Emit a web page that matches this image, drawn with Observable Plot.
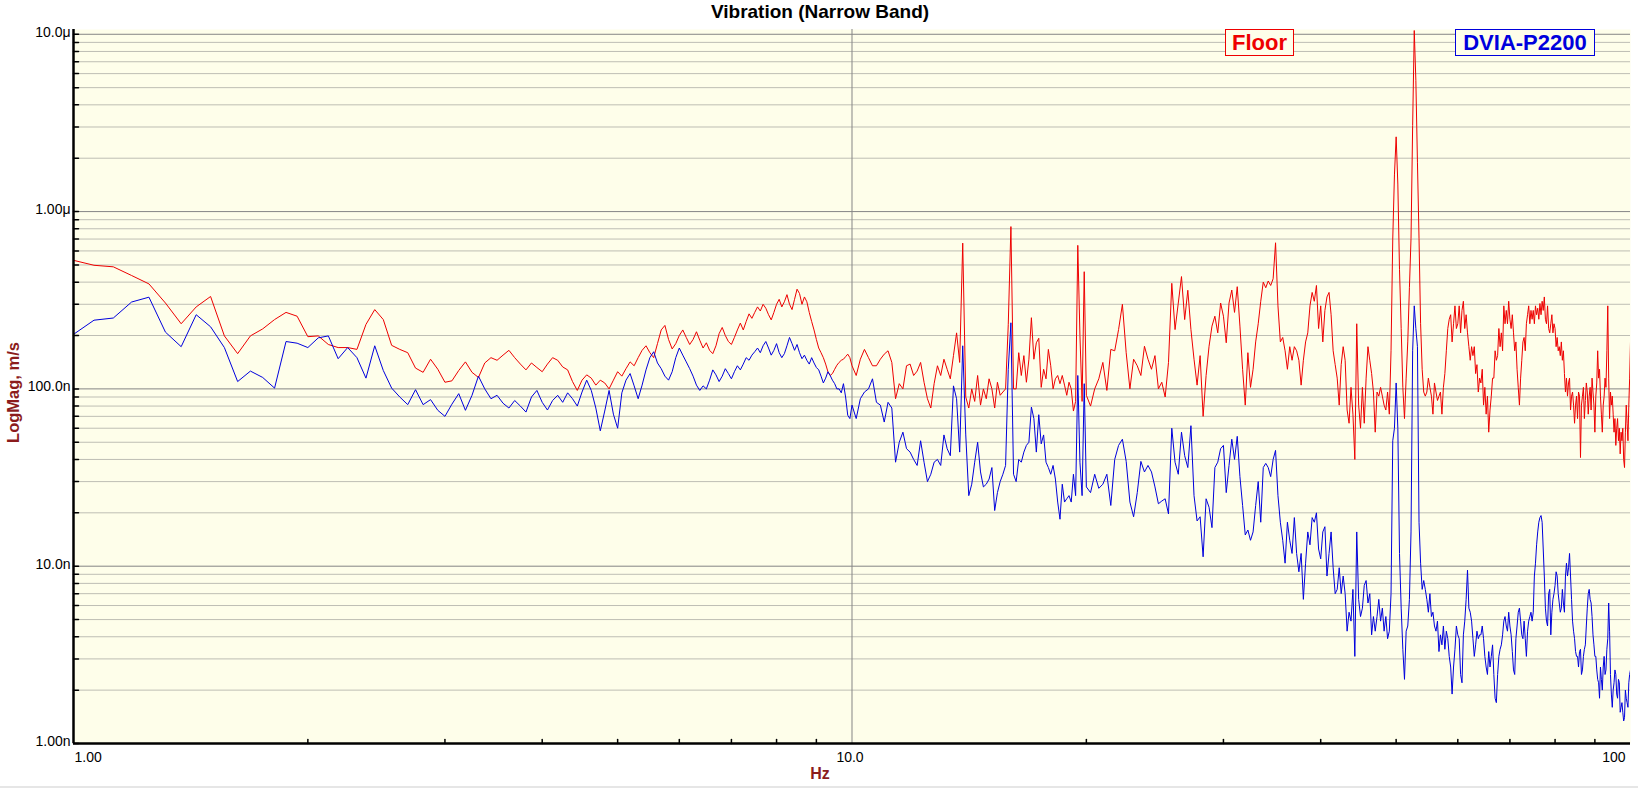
<!DOCTYPE html>
<html><head><meta charset="utf-8">
<script src="https://cdn.jsdelivr.net/npm/d3@7"></script>
<script src="https://cdn.jsdelivr.net/npm/@observablehq/plot@0.6"></script>
<style>
html,body{margin:0;padding:0;background:#fff;}
#wrap{position:relative;width:1638px;height:788px;overflow:hidden;font-family:"Liberation Sans",Arial,sans-serif;}
.leg{position:absolute;top:29px;height:25px;line-height:25px;font-weight:bold;font-size:22px;text-align:center;background:#fefeea;}
#legFloor{left:1225px;width:67px;border:1px solid #ee0000;color:#ee0000;}
#legDvia{left:1455px;width:138px;border:1px solid #0000dd;color:#0000dd;}
#edge{position:absolute;left:0;top:786px;width:1638px;height:2px;background:#e6e6e6;}
</style></head><body>
<div id="wrap"><div id="chart"></div>
<div class="leg" id="legFloor">Floor</div><div class="leg" id="legDvia">DVIA-P2200</div><div id="edge"></div></div>
<script>
// ---- chart text ----
const chartTitle = "Vibration (Narrow Band)";
const xLabel = "Hz";
const yLabel = "LogMag, m/s";
const seriesNames = ["Floor", "DVIA-P2200"];
// ---- axes ----
const yTickValues = [1e-9, 1e-8, 1e-7, 1e-6, 1e-5];
const yTickLabels = ["1.00n", "10.0n", "100.0n", "1.00\u03bc", "10.0\u03bc"];
const yMinorMult = [2, 3, 4, 5, 6, 7, 8, 9];
const xTickValues = [1, 10, 100];
const xTickLabels = ["1.00", "10.0", "100"];
const xMinorTicks = [2, 3, 4, 5, 6, 7, 8, 9, 20, 30, 40, 50, 60, 70, 80, 90];
const xGrid = [10];
// ---- frequency bins (Hz): segment start and bin width ----
const segStart = [1, 10.125, 20.25, 32.75];
const segStep = [0.0625, 0.125, 0.25, 0.25];
// ---- Floor magnitudes, nm/s ----
const floorA = [531,498,488,436,391,305,233,290,332,199,
158,199,218,246,270,257,197,199,178,171,
171,167,231,280,246,176,167,160,131,124,
147,129,109,111,127,142,124,116,
140,150,145,155,165,150,138,128,140,132,
125,138,150,145,133,128,110,98,112,120,
115,105,112,108,100,112,125,118,130,142,
135,150,165,175,160,150,180,215,228,190,
168,180,200,215,195,178,190,210,188,170,
182,165,158,175,205,222,200,185,178,195,
215,235,215,240,265,250,270,290,275,300,
285,262,245,270,300,320,290,310,340,300,
280,320,365,345,300,330,310,270,240,215,
190,170,160,150,138,125,119,122,129,136,
141,145,147,152,157,150,135];
const floorB = [119,147,167,150,135,135,147,157,164,141,
88,107,100,135,138,119,126,141,109,88,
78,107,135,119,147,129,114,154,207,141,
664,90,78,100,85,119,81,100,88,114,
100,78,109,92,96,100,230,823,100,100,
160,119,154,109,147,252,147,182,193,102,
129,114,167,135,100,114,119,107,119,105,
92,109,100,75,85,645,200,85,458,92];
const floorC1 = [80,100,114,141,98,167,164,216,300,160,
100,147,135,119,174,147,129,154,100,109,
90,141,394,216,305,430,246,360,216,147,
105,154,70,119,174,226,257,207,305,257,
182,305,361,270,377,226,129,81,160,102];
const floorC2 = [129,184,233,312,400,372,406,383,418,667,
294,184,195,164,129,173,145,173,164,145,
105,145,184,207,294,350,312,383,219,294,
184,277,330,350,262,164,137,115,81,137,
173,145,76,64,102,72,40,233,81,60,
102,64,115,173,145,122,96,57,96,91,
102,91,81,76,96,72,164,700,1610,2640,
1430,470,219,102,68,115,184,372,707,3060,
10500,5500,1900,707,233,129,96,91,96,115,
102,91,72,108,96,86,91,96,72,102,
122,164,219,247,262,184,233,294,219,233,
294,207,277,312,219,262,207,173,145,173,
154,173,122,137,96,115,108,129,81,102,
72,91,57,76,91,115,115,164,145,154,
219,173,207,164,294,233,277,233,312,247,
219,262,207,164,184,129,102,81,115,145,
184,195,164,233,262,294,233,277,247,277,
233,294,262,285,247,303,262,312,277,330,
247,233,294,219,207,233,262,207,233,219,
173,195,164,173,154,184,145,164,122,96,
115,91,108,115,76,91,96,81,64,81,
91,68,96,91,41,81,91,102,68,86,
108,96,72,91,102,76,115,96,81,57,
91,108,164,115,129,91,72,57,81,91,
115,102,164,294,115,68,96,81,91,72,
57,68,48,60,68,51,60,43,57,51,
60,40,36,57,81,64,51,81,115,184];
// ---- DVIA-P2200 magnitudes, nm/s ----
const dviaA = [203,244,251,309,329,209,173,262,224,171,
110,126,116,101,185,181,171,194,199,148,
171,150,115,175,127,101,90,81.5,99,81.5,
87,75.7,70,82,94,75.7,92,118,
100,88,92,83,78,86,80,74,90,98,
84,76,86,92,84,95,88,80,96,112,
98,78,58,75,98,72,60,95,112,122,
104,88,105,128,150,162,140,130,118,112,
125,150,170,155,142,130,118,105,98,104,
100,112,128,120,110,118,130,122,114,125,
135,128,138,150,145,155,162,170,160,175,
185,170,155,165,180,160,150,158,175,195,
180,165,178,160,148,155,145,138,150,140,
132,128,118,108,115,125,119,112,107,100,
100,95,107,90,71,68,81];
const dviaB = [68,88,96,100,114,84,81,65,84,78,
38.6,50,57,46,44,40,37,51,38.6,30,
33,38.6,40,37,55,46,42,104,88,44,
175,55,25,29,38.6,50,34,28,29,31,
36,20.6,26,30,33,37,129,236,33,30,
40,38.6,44,48,50,79,68,44,71.5,49,
55,38.6,36,33,37,31,23,18.4,29,23,
24,25,23,33,25,119,38.6,25,107,28];
const dviaC1 = [26,33,27.5,29,33,22,40,48,52,39,
23,19,26,39,34,37,34,28,22.5,23.3,
24,19.7,60,38.6,33,57,42,36,62,25,
18,19,11.3,24,21.5,16.5,36,38.6,46,48,
26,37,52,40,54,32,22,15,16,14];
const dviaC2 = [15.6,22,30,17.7,36,38,36,32,40,45,
25,17.7,14,10.4,17.7,14,11.8,18.8,11.8,9.3,
11.8,6.5,10.4,15.6,13.2,18.8,17.7,20,12.5,11,
15.6,16.7,8.8,11.8,15.6,9.8,7.0,7.4,9.8,7.0,
8.8,7.0,4.3,5.5,4.9,7.4,3.1,15.6,6.5,5.2,
5.8,7.8,8.3,6.2,7.0,4.1,5.2,4.3,5.2,6.5,
4.9,5.8,4.3,5.2,3.9,4.3,7.0,51,60,108,
60,11.8,5.8,3.4,2.3,4.3,4.6,6.5,15.6,164,
294,219,173,17.7,10.4,7.4,8.3,7.4,6.5,5.5,
7.0,5.2,5.5,4.6,4.3,4.9,3.3,4.1,3.6,4.6,
3.4,4.3,3.9,3.1,2.7,1.9,2.7,3.4,4.6,4.1,
3.9,2.45,2.2,4.1,4.9,6.5,9.5,5.8,5.5,4.9,
3.9,3.1,3.6,4.3,3.9,4.1,4.1,4.6,3.9,3.1,
2.7,2.45,3.3,2.7,3.1,3.6,2.45,1.8,1.7,2.45,
3.1,3.4,3.6,4.1,4.9,5.2,4.6,4.3,5.5,4.6,
4.1,3.3,2.6,2.45,3.9,4.6,5.5,5.8,4.9,4.1,
3.9,4.9,3.9,3.1,4.3,4.9,5.2,5.5,4.9,5.5,
8.8,10.4,13.2,15.6,17.7,18.8,19.3,17.7,12.5,8.8,
5.8,4.9,4.6,7.0,7.4,4.1,5.5,6.5,7.0,7.8,
9.3,8.8,7.0,6.2,5.5,5.8,7.4,6.2,5.5,8.8,
10.4,8.8,9.8,11.8,8.8,6.5,4.9,4.3,3.9,3.3,
3.1,3.1,2.7,3.3,3.4,2.45,2.6,3.1,3.4,3.6,
4.6,5.8,7.0,7.4,6.5,6.2,5.2,4.1,3.6,3.1,
3.1,2.6,2.3,2.2,1.8,2.7,2.3,2.0,2.7,3.1,
2.45,2.6,3.4,3.9,6.2,4.3,2.45,1.9,1.6,2.0,
2.2,2.6,2.45,1.9,1.8,2.3,2.2,1.5,1.6,1.7,
1.5,1.34,1.4,2.0,1.8,1.7,1.6,2.2,2.45,2.6];

function build(segs) {
  const out = [];
  segs.forEach((vals, s) => vals.forEach((v, i) => out.push({hz: segStart[s] + i * segStep[s], mag: v * 1e-9})));
  return out;
}
const floorData = build([floorA, floorB, floorC1, floorC2]);
const dviaData = build([dviaA, dviaB, dviaC1, dviaC2]);

const yMinor = [];
yTickValues.slice(0, -1).forEach(d => yMinorMult.forEach(m => yMinor.push(d * m)));
const yAllTicks = yTickValues.concat(yMinor);

const tickShape = {draw(ctx, l) { ctx.moveTo(0, 0); ctx.lineTo(0, -l); }};
const darkRed = "#8b1c1c";
const font = '"Liberation Sans", Arial, sans-serif';

const chart = Plot.plot({
  width: 1638, height: 788,
  marginLeft: 73, marginRight: 8, marginTop: 29, marginBottom: 45,
  style: {fontFamily: font, fontSize: "14px", background: "#ffffff", color: "#000", overflow: "visible"},
  x: {type: "log", domain: [1, 100], axis: null},
  y: {type: "log", domain: [1e-9, 1.064e-5], axis: null},
  marks: [
    Plot.frame({fill: "#fefeea", stroke: null}),
    Plot.ruleY(yMinor, {stroke: "#bebeb4", strokeWidth: 1}),
    Plot.ruleY(yTickValues, {stroke: "#858585", strokeWidth: 1}),
    Plot.ruleX(xGrid, {stroke: "#858585", strokeWidth: 1}),
    Plot.line(floorData, {x: "hz", y: "mag", stroke: "#ee0000", strokeWidth: 1, clip: true}),
    Plot.line(dviaData, {x: "hz", y: "mag", stroke: "#0000dd", strokeWidth: 1, clip: true}),
    Plot.ruleX([xTickValues[0]], {stroke: "#000", strokeWidth: 2.5}),
    Plot.ruleY([yTickValues[0]], {stroke: "#000", strokeWidth: 2.5}),
    Plot.vector(yAllTicks, {x: () => xTickValues[0], y: d => d, length: 5, rotate: 90, anchor: "start", shape: tickShape, stroke: "#000"}),
    Plot.vector(xMinorTicks, {x: d => d, y: () => yTickValues[0], length: 4, rotate: 0, anchor: "start", shape: tickShape, stroke: "#000"}),
    Plot.text(yTickValues, {x: () => xTickValues[0], y: d => d, text: (d, i) => yTickLabels[i], textAnchor: "end", dx: -3, dy: -2, fontSize: 14, fill: "#000"}),
    Plot.text([0], {x: () => xTickValues[0], y: () => yTickValues[0], text: () => xTickLabels[0], textAnchor: "start", lineAnchor: "bottom", dx: 1, dy: 18, fontSize: 14, fill: "#000"}),
    Plot.text([1], {x: () => xTickValues[1], y: () => yTickValues[0], text: () => xTickLabels[1], textAnchor: "middle", lineAnchor: "bottom", dx: -2, dy: 18, fontSize: 14, fill: "#000"}),
    Plot.text([2], {x: () => xTickValues[2], y: () => yTickValues[0], text: () => xTickLabels[2], textAnchor: "end", lineAnchor: "bottom", dx: -5, dy: 18, fontSize: 14, fill: "#000"}),
    Plot.text([chartTitle], {frameAnchor: "top", text: d => d, textAnchor: "middle", lineAnchor: "bottom", dx: -32, dy: -12, fontSize: 19, fontWeight: "bold", fill: "#000"}),
    Plot.text([xLabel], {frameAnchor: "bottom", text: d => d, textAnchor: "middle", lineAnchor: "bottom", dx: -32, dy: 35, fontSize: 16, fontWeight: "bold", fill: darkRed}),
    Plot.text([yLabel], {frameAnchor: "left", text: d => d, rotate: -90, textAnchor: "middle", lineAnchor: "bottom", dx: -55, dy: 6, fontSize: 16.5, fontWeight: "bold", fill: darkRed})
  ]
});
document.getElementById("chart").appendChild(chart);
document.getElementById("legFloor").textContent = seriesNames[0];
document.getElementById("legDvia").textContent = seriesNames[1];
</script></body></html>
